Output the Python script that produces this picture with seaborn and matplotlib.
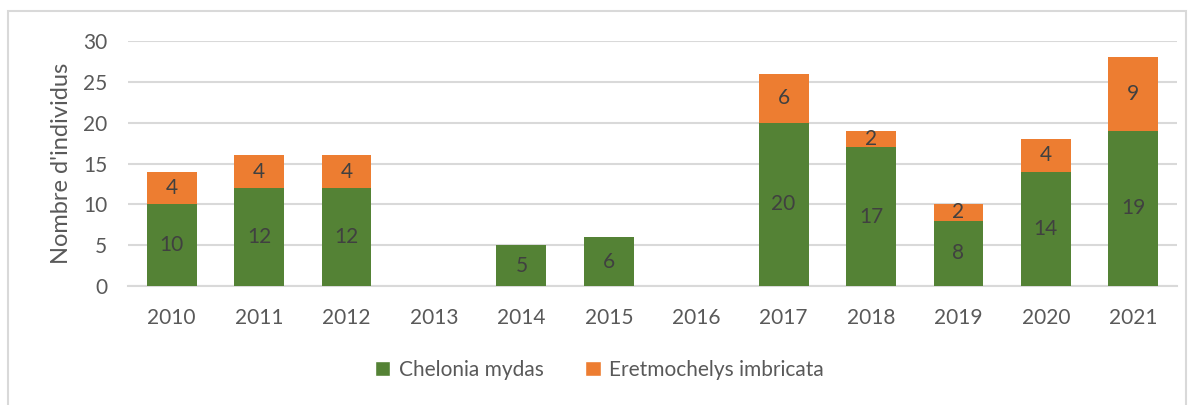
import pandas as pd
import numpy as np
import matplotlib
matplotlib.use("Agg")
import matplotlib.pyplot as plt
from matplotlib.patches import Rectangle, Patch
import seaborn as sns

# data
years = ['2010', '2011', '2012', '2013', '2014', '2015', '2016', '2017', '2018', '2019', '2020', '2021']
chelonia = [10, 12, 12, 0, 5, 6, 0, 20, 17, 8, 14, 19]
eretmochelys = [4, 4, 4, 0, 0, 0, 0, 6, 2, 2, 4, 9]
species = ['Chelonia mydas', 'Eretmochelys imbricata']

green = '#548235'
orange = '#ED7D31'
text_col = '#595959'
lab_col = '#404040'
grid_col = '#D9D9D9'

sns.set_theme(style='white')
plt.rcParams['font.family'] = ['Lato', 'DejaVu Sans']

df = pd.DataFrame({'year': years, 'green': chelonia, 'orange': eretmochelys})
df['total'] = df['green'] + df['orange']

fig = plt.figure(figsize=(11.94, 4.05), dpi=100)
ax = fig.add_axes([128 / 1194, 1 - 286 / 405, 1049 / 1194, 245 / 405])

# orange on full stack height, green drawn over it
sns.barplot(data=df, x='year', y='total', color=orange, width=0.57,
            saturation=1, ax=ax, linewidth=0, zorder=3)
sns.barplot(data=df, x='year', y='green', color=green, width=0.57,
            saturation=1, ax=ax, linewidth=0, zorder=4)

for i, (g, o) in enumerate(zip(chelonia, eretmochelys)):
    if g > 0:
        ax.text(i, g / 2, str(g), ha='center', va='center', fontsize=15, color=lab_col, zorder=5)
    if o > 0:
        ax.text(i, g + o / 2, str(o), ha='center', va='center', fontsize=15, color=lab_col, zorder=5)

ax.set_ylim(0, 30)
ax.set_xlim(-0.5, len(years) - 0.5)
ax.set_yticks(range(0, 31, 5))
ax.yaxis.grid(True, color=grid_col, linewidth=1.5, zorder=0)
ax.set_axisbelow(True)
for s in ['top', 'right', 'left']:
    ax.spines[s].set_visible(False)
ax.spines['bottom'].set_color(grid_col)
ax.spines['bottom'].set_linewidth(1.5)
ax.tick_params(axis='both', length=0, labelsize=15, labelcolor=text_col)
ax.tick_params(axis='x', pad=16)
ax.tick_params(axis='y', pad=15)
ax.set_xlabel('')
ax.set_ylabel("Nombre d'individus", fontsize=17, color=text_col, labelpad=8)

handles = [Patch(facecolor=green, label=species[0]), Patch(facecolor=orange, label=species[1])]
fig.legend(handles=handles, loc='center', bbox_to_anchor=(0.502, 1 - 370 / 405), ncol=2,
           frameon=False, fontsize=15, labelcolor=text_col, handlelength=0.75, handleheight=0.75,
           handletextpad=0.4, columnspacing=2.0)

fig.patches.append(Rectangle((8 / 1194, -0.05), 1178 / 1194, 1.05 - 11 / 405,
                             transform=fig.transFigure, fill=False, edgecolor=grid_col, linewidth=1.5))

fig.savefig('out.png', dpi=100)
